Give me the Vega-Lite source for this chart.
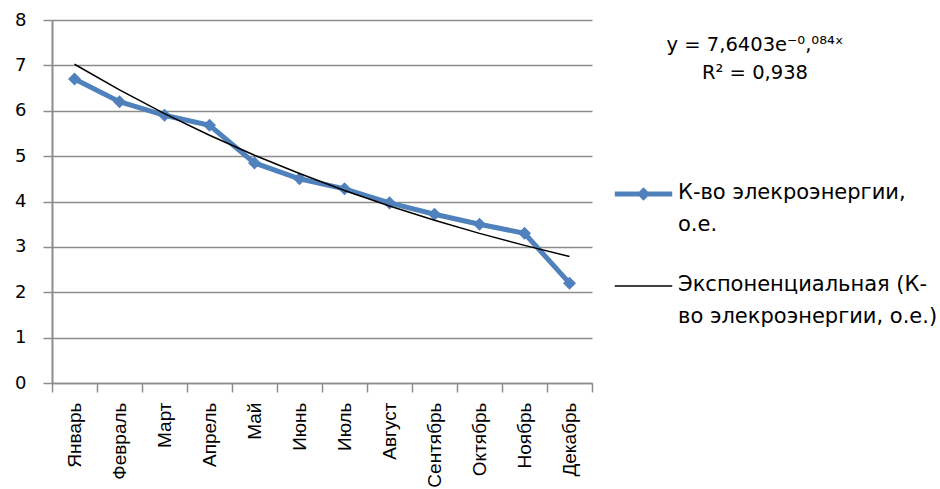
{
  "$schema": "https://vega.github.io/schema/vega-lite/v6.json",
  "autosize": {"type": "none"},
  "width": 540,
  "height": 363,
  "padding": {"left": 52, "top": 20, "right": 348, "bottom": 106},
  "background": "white",
  "config": {
    "view": {"stroke": null},
    "font": "DejaVu Sans"
  },
  "data": {
    "values": [
      {"month": "Январь", "value": 6.7, "trend": 7.025},
      {"month": "Февраль", "value": 6.2, "trend": 6.459},
      {"month": "Март", "value": 5.9, "trend": 5.938},
      {"month": "Апрель", "value": 5.68, "trend": 5.46},
      {"month": "Май", "value": 4.85, "trend": 5.02},
      {"month": "Июнь", "value": 4.5, "trend": 4.616},
      {"month": "Июль", "value": 4.28, "trend": 4.244},
      {"month": "Август", "value": 3.97, "trend": 3.902},
      {"month": "Сентябрь", "value": 3.72, "trend": 3.588},
      {"month": "Октябрь", "value": 3.5, "trend": 3.298},
      {"month": "Ноябрь", "value": 3.3, "trend": 3.033},
      {"month": "Декабрь", "value": 2.2, "trend": 2.788}
    ]
  },
  "transform": [
    {"fold": ["value", "trend"], "as": ["series", "amount"]}
  ],
  "encoding": {
    "x": {
      "field": "month",
      "type": "ordinal",
      "sort": null,
      "scale": {"paddingInner": 0, "paddingOuter": 0},
      "axis": {
        "title": null,
        "labelAngle": -90,
        "labelAlign": "right",
        "labelBaseline": "middle",
        "labelFont": "Liberation Sans",
        "labelFontSize": 19,
        "labelColor": "#000000",
        "labelPadding": 10,
        "tickBand": "extent",
        "tickSize": 9,
        "tickColor": "#8c8c8c",
        "tickWidth": 1.5,
        "domainColor": "#8c8c8c",
        "domainWidth": 1.5,
        "grid": false
      }
    },
    "y": {
      "field": "amount",
      "type": "quantitative",
      "scale": {"domain": [0, 8], "nice": false},
      "axis": {
        "title": null,
        "tickCount": 8,
        "labelOverlap": false,
        "grid": true,
        "gridColor": "#8c8c8c",
        "gridWidth": 1.5,
        "domainColor": "#8c8c8c",
        "domainWidth": 2,
        "tickColor": "#8c8c8c",
        "tickWidth": 1.5,
        "tickSize": 9,
        "labelFontSize": 18,
        "labelColor": "#000000",
        "labelPadding": 17
      }
    },
    "color": {
      "field": "series",
      "type": "nominal",
      "scale": {"domain": ["value", "trend"], "range": ["#4F81BD", "#000000"]},
      "legend": {
        "orient": "none",
        "legendX": 581,
        "legendY": 16,
        "symbolType": "stroke",
        "symbolSize": 3300,
        "symbolStrokeWidth": 5,
        "labelFontSize": 21,
        "labelColor": "#000000",
        "labelLimit": 400,
        "labelOffset": 24,
        "labelBaseline": "top",
        "rowPadding": 38,
        "title": ["y = 7,6403e⁻⁰,⁰⁸⁴ˣ", "R² = 0,938"],
        "titleFontSize": 19.5,
        "titleFontWeight": "normal",
        "titleColor": "#000000",
        "titleAnchor": "middle",
        "titleAlign": "center",
        "titlePadding": 100,
        "titleLineHeight": 28,
        "labelExpr": "datum.label == 'value' ? ['К-во элекроэнергии,', 'о.е.'] : ['Экспоненциальная (К-', 'во элекроэнергии, о.е.)']",
        "encode": {
          "title": {"update": {"dx": {"value": -30}}},
          "labels": {"update": {"lineHeight": {"value": 32}, "dy": {"value": -12}}},
          "symbols": {
            "update": {
              "shape": {"signal": "datum.value == 'value' ? 'M-1,0L1,0M0,-0.11L0.11,0L0,0.11L-0.11,0Z' : 'stroke'"},
              "fill": {"signal": "datum.value == 'value' ? '#4F81BD' : 'transparent'"},
              "strokeWidth": {"signal": "datum.value == 'value' ? 5 : 1.5"}
            }
          }
        }
      }
    }
  },
  "layer": [
    {
      "transform": [{"filter": "datum.series == 'value'"}],
      "mark": {
        "type": "line",
        "strokeWidth": 5,
        "point": {"shape": "diamond", "size": 170, "filled": true, "color": "#4F81BD"}
      }
    },
    {
      "transform": [{"filter": "datum.series == 'trend'"}],
      "mark": {"type": "line", "strokeWidth": 1.5}
    }
  ]
}
